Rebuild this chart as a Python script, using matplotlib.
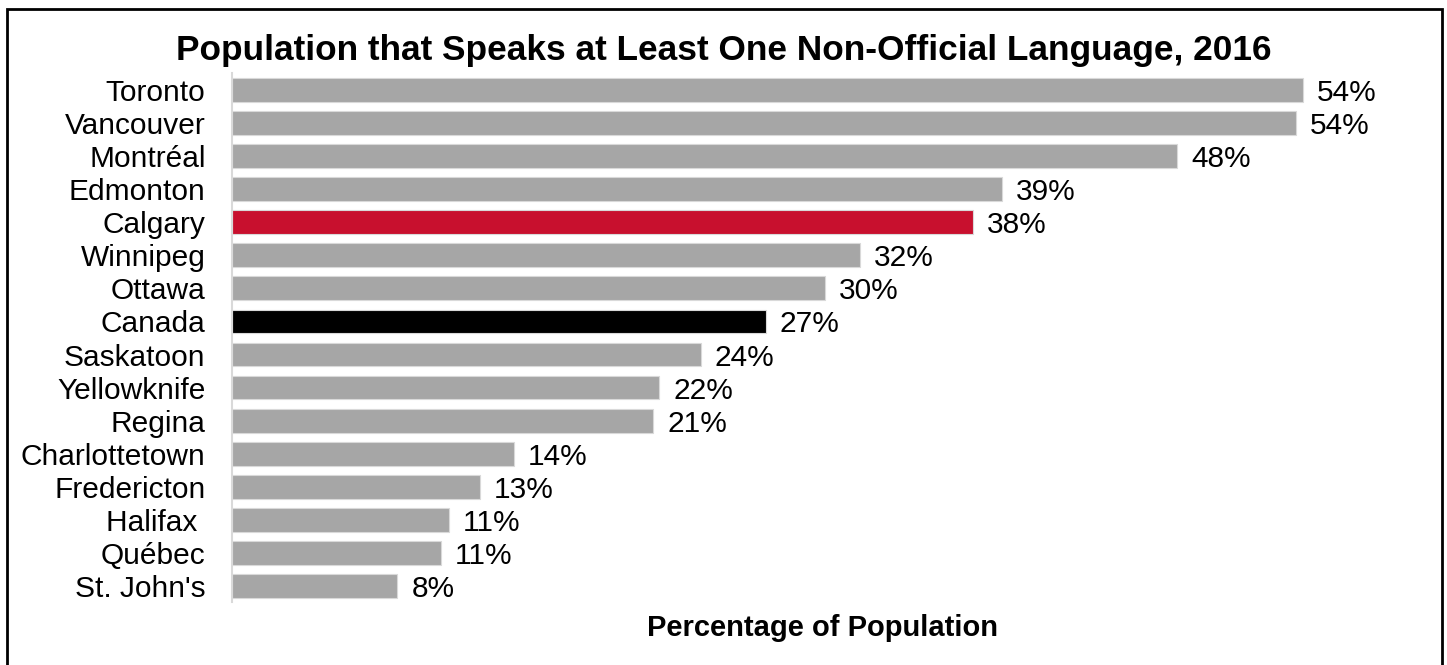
import matplotlib.pyplot as plt
from matplotlib.patches import Rectangle

plt.rcParams["font.family"] = ["Liberation Sans", "DejaVu Sans"]

cities = ["Toronto", "Vancouver", "Montréal", "Edmonton", "Calgary", "Winnipeg",
          "Ottawa", "Canada", "Saskatoon", "Yellowknife", "Regina", "Charlottetown",
          "Fredericton", "Halifax ", "Québec", "St. John's"]
share = [54.4, 54.0, 48.0, 39.1, 37.6, 31.9, 30.1, 27.1, 23.8, 21.7, 21.4,
         14.3, 12.6, 11.0, 10.6, 8.4]

grey = "#A6A6A6"
colors = [grey] * len(cities)
colors[cities.index("Calgary")] = "#C8102E"
colors[cities.index("Canada")] = "#000000"

fig = plt.figure(figsize=(14.47, 6.65), dpi=100)
ax = fig.add_axes([0.1603, 0.094, 0.8167, 0.7955])

y = range(len(cities))
ax.barh(y, share, height=0.72, color=colors, edgecolor="#D9D9D9", linewidth=0.8)
ax.set_ylim(len(cities) - 0.5, -0.5)
ax.set_xlim(0, 60)

ax.set_yticks(list(y))
ax.set_yticklabels(cities, fontsize=21.5)
ax.tick_params(axis="y", length=0, pad=19)
ax.set_xticks([])

for s in ["top", "right", "bottom"]:
    ax.spines[s].set_visible(False)
ax.spines["left"].set_color("#D9D9D9")
ax.spines["left"].set_linewidth(1.5)

for i, v in enumerate(share):
    ax.annotate(f"{round(v)}%", (v, i), xytext=(10, 0), textcoords="offset points",
                va="center_baseline", ha="left", fontsize=21.5)

ax.set_xlabel("Percentage of Population", fontsize=21, fontweight="bold", labelpad=8)
fig.text(0.5, 0.924, "Population that Speaks at Least One Non-Official Language, 2016",
         ha="center", va="center", fontsize=25.4, fontweight="bold")

# frame around the chart (bottom edge falls outside the image)
fig.patches.append(Rectangle((7 / 1447, -0.05), 1435 / 1447, 1.05 - 9 / 665,
                             transform=fig.transFigure, fill=False,
                             edgecolor="black", linewidth=2))

fig.savefig("out.png", dpi=100)
